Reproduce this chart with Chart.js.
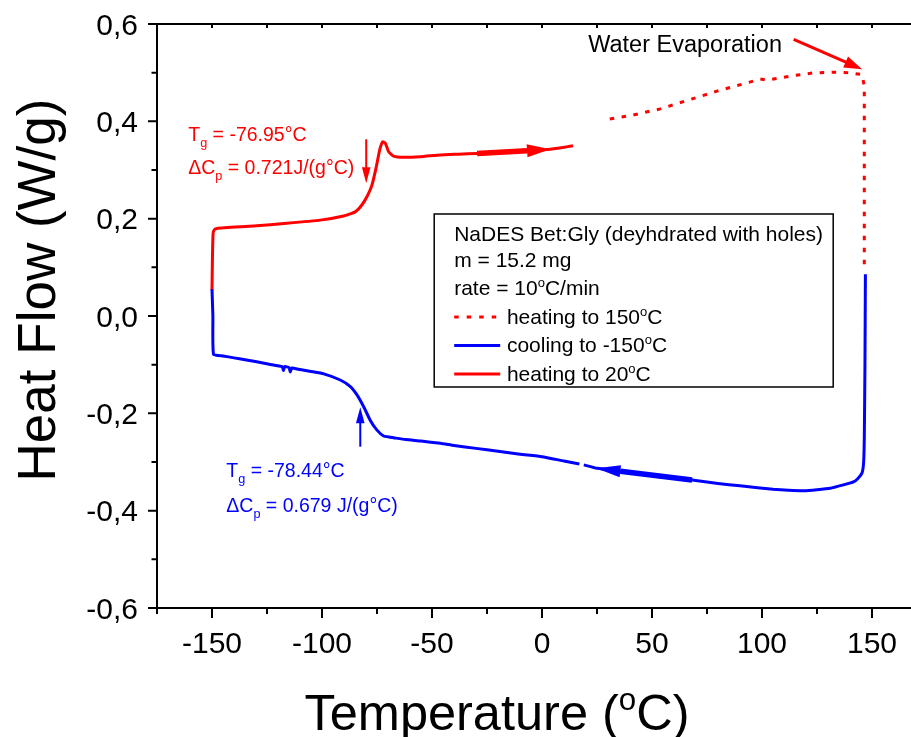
<!DOCTYPE html>
<html>
<head>
<meta charset="utf-8">
<script src="https://cdn.jsdelivr.net/npm/chart.js@4/dist/chart.umd.min.js"></script>
<style>
  html, body { margin: 0; padding: 0; background: #fff; overflow: hidden; }
  #wrap { position: relative; width: 940px; height: 737px; }
</style>
</head>
<body>
<div id="wrap"><canvas id="dsc"></canvas></div>
<script>
const FONT = '"Liberation Sans", Arial, Helvetica, sans-serif';

// DSC thermogram: temperature (°C) and heat flow (W/g)
// first heating to 150 °C (dotted)
const heat150T = [30.8, 40.9, 53.8, 65.9, 79.5, 93.2, 99.2, 102.3, 105.3, 114.4, 123.5, 132.5, 140.1, 145.5, 146.5, 146.5];
const heat150Q = [0.405, 0.4125, 0.4255, 0.4428, 0.462, 0.479, 0.487, 0.4845, 0.487, 0.494, 0.4995, 0.501, 0.4995, 0.496, 0.472, 0.0955];

// cooling to -150 °C
const coolT = [147.0, 146.8, 146.5, 146.2, 145.5, 143.6, 141.6, 137, 131, 125, 119, 112, 105, 98, 90, 80, 68.2, 55, 45, 35.6, 25, 19, 18, 17, 10, 0, -10, -20, -30, -40, -46.2, -55, -62, -67, -69, -72, -75.1, -78.1, -81.1, -84.1, -87.1, -91.7, -99.2, -105, -110, -113.8, -114.4, -115, -117, -117.5, -118.1, -124, -129.7, -135, -140, -145, -149.3, -149.6, -150];
const coolQ = [0.086, -0.1, -0.25, -0.3, -0.322, -0.334, -0.341, -0.347, -0.354, -0.357, -0.359, -0.358, -0.356, -0.353, -0.349, -0.344, -0.337, -0.329, -0.324, -0.319, -0.313, -0.306, null, -0.304, -0.298, -0.289, -0.284, -0.278, -0.272, -0.266, -0.2616, -0.257, -0.254, -0.2505, -0.249, -0.2466, -0.234, -0.214, -0.186, -0.162, -0.145, -0.1315, -0.119, -0.114, -0.110, -0.107, -0.115, -0.106, -0.104, -0.112, -0.104, -0.099, -0.094, -0.09, -0.086, -0.082, -0.0787, 0.0, 0.055];

// second heating to 20 °C
const heat20T = [-150, -149.8, -149.5, -148.8, -147.8, -131.1, -116, -100.8, -90.2, -84.9, -81.9, -79.6, -77.3, -75.3, -73.8, -72.4, -71.2, -69.7, -67.5, -62.9, -55.3, -46.2, -38, -29.5, -20, -10, 0, 3.8, 8, 14.1];
const heat20Q = [0.053, 0.12, 0.17, 0.178, 0.180, 0.185, 0.1905, 0.197, 0.2055, 0.214, 0.228, 0.245, 0.269, 0.307, 0.341, 0.358, 0.355, 0.3376, 0.3287, 0.326, 0.3273, 0.331, 0.3325, 0.334, 0.336, 0.338, 0.341, 0.3425, 0.345, 0.35];

// axes
const xRange = [-175, 175];
const yRange = [-0.6, 0.6];
const xTickValues = [-150, -100, -50, 0, 50, 100, 150];
const xMinorTicks = [-175, -125, -75, -25, 25, 75, 125, 175];
const yTickValues = [-0.6, -0.4, -0.2, 0, 0.2, 0.4, 0.6];
const yMinorTicks = [-0.5, -0.3, -0.1, 0.1, 0.3, 0.5];

// glass transitions
const tgHeating = { tg: -76.95, dcp: 0.721 };
const tgCooling = { tg: -78.44, dcp: 0.679 };

const RED = '#ff0000';
const BLUE = '#0000ff';

const pts = (xs, ys) => xs.map((x, i) => ({ x: x, y: ys[i] }));

// annotation layout (data units)
const notes = {
  redArrowTg: { x: -79.9, from: 0.363, to: 0.2727 },
  blueArrowTg: { x: -82.6, from: -0.2685, to: -0.1876 },
  redText: { x: -160.8, y1: 0.3602, y2: 0.2918 },
  blueText: { x: -143.5, y1: -0.3314, y2: -0.4021 },
  water: { x: 21.0, y: 0.543, tail: [114.4, 0.5685], tip: [145.5, 0.507] },
  heatDir: { tail: [-29.5, 0.334], base: [-6.8, 0.3395], tip: [3.8, 0.3425] },
  coolDir: { tail: [68.2, -0.337], base: [35.6, -0.319], tip: [24.7, -0.313] },
  legendBox: { x: -49.0, y: 0.2096 }
};

function head(ctx, x0, y0, x1, y1, len, half, color) {
  const a = Math.atan2(y1 - y0, x1 - x0);
  const bx = x1 - len * Math.cos(a), by = y1 - len * Math.sin(a);
  ctx.beginPath();
  ctx.moveTo(x1, y1);
  ctx.lineTo(bx + half * Math.sin(a), by - half * Math.cos(a));
  ctx.lineTo(bx - half * Math.sin(a), by + half * Math.cos(a));
  ctx.closePath();
  ctx.fillStyle = color;
  ctx.fill();
}

// text with sub/superscript pieces; returns the end x
function rich(ctx, x, y, parts, size, color) {
  ctx.fillStyle = color;
  ctx.textBaseline = 'alphabetic';
  ctx.textAlign = 'left';
  let cx = x;
  for (const p of parts) {
    let s = size, dy = 0;
    if (p.sub) { s = size * 0.65; dy = size * 0.3; }
    if (p.sup) { s = size * 0.62; dy = -size * 0.4; }
    ctx.font = s + 'px ' + FONT;
    ctx.fillText(p.t, cx, y + dy);
    cx += ctx.measureText(p.t).width;
  }
  return cx;
}

function richWidth(ctx, parts, size) {
  let w = 0;
  for (const p of parts) {
    const s = (p.sub ? 0.65 : p.sup ? 0.62 : 1) * size;
    ctx.font = s + 'px ' + FONT;
    w += ctx.measureText(p.t).width;
  }
  return w;
}

const decor = {
  id: 'decor',
  afterDatasetsDraw(chart) {
    const ctx = chart.ctx;
    const xs = chart.scales.x, ys = chart.scales.y;
    const X = v => xs.getPixelForValue(v), Y = v => ys.getPixelForValue(v);
    const ca = chart.chartArea;
    ctx.save();

    // direction arrows on the curves
    const arrowOn = (d, color, half) => {
      ctx.strokeStyle = color; ctx.lineWidth = 5.5; ctx.lineCap = 'butt';
      ctx.beginPath();
      ctx.moveTo(X(d.tail[0]), Y(d.tail[1]));
      ctx.lineTo(X(d.base[0]), Y(d.base[1]));
      ctx.stroke();
      const bx = X(d.base[0]), by = Y(d.base[1]), tx = X(d.tip[0]), ty = Y(d.tip[1]);
      head(ctx, bx, by, tx, ty, Math.hypot(tx - bx, ty - by), half, color);
    };
    arrowOn(notes.heatDir, RED, 6.5);
    arrowOn(notes.coolDir, BLUE, 6);

    // Tg markers
    const tgArrow = (a, color) => {
      const x = X(a.x), y0 = Y(a.from), y1 = Y(a.to);
      const dir = Math.sign(y1 - y0);
      ctx.strokeStyle = color; ctx.lineWidth = 2;
      ctx.beginPath(); ctx.moveTo(x, y0); ctx.lineTo(x, y1 - dir * 10); ctx.stroke();
      head(ctx, x, y0, x, y1, 16, 4.3, color);
    };
    tgArrow(notes.redArrowTg, RED);
    tgArrow(notes.blueArrowTg, BLUE);

    const fs = 19.5;
    rich(ctx, X(notes.redText.x), Y(notes.redText.y1),
      [{ t: 'T' }, { t: 'g', sub: true }, { t: ' = ' + tgHeating.tg.toFixed(2) + '°C' }], fs, RED);
    rich(ctx, X(notes.redText.x), Y(notes.redText.y2),
      [{ t: 'ΔC' }, { t: 'p', sub: true }, { t: ' = ' + tgHeating.dcp.toFixed(3) + 'J/(g°C)' }], fs, RED);
    rich(ctx, X(notes.blueText.x), Y(notes.blueText.y1),
      [{ t: 'T' }, { t: 'g', sub: true }, { t: ' = ' + tgCooling.tg.toFixed(2) + '°C' }], fs, BLUE);
    rich(ctx, X(notes.blueText.x), Y(notes.blueText.y2),
      [{ t: 'ΔC' }, { t: 'p', sub: true }, { t: ' = ' + tgCooling.dcp.toFixed(3) + ' J/(g°C)' }], fs, BLUE);

    // water evaporation note
    rich(ctx, X(notes.water.x), Y(notes.water.y), [{ t: 'Water Evaporation' }], 23.5, '#000');
    {
      const tx = X(notes.water.tip[0]), ty = Y(notes.water.tip[1]);
      const sx = X(notes.water.tail[0]), sy = Y(notes.water.tail[1]);
      const a = Math.atan2(ty - sy, tx - sx);
      ctx.strokeStyle = RED; ctx.lineWidth = 3;
      ctx.beginPath(); ctx.moveTo(sx, sy);
      ctx.lineTo(tx - 14 * Math.cos(a), ty - 14 * Math.sin(a)); ctx.stroke();
      head(ctx, sx, sy, tx, ty, 18, 6, RED);
    }

    // legend box
    {
      const bx = X(notes.legendBox.x), by = Y(notes.legendBox.y);
      const w = 399, h = 173, ls = 21;
      ctx.strokeStyle = '#000'; ctx.lineWidth = 1.5;
      ctx.strokeRect(bx, by, w, h);
      const tx = bx + 20;
      rich(ctx, tx, by + 27.5, [{ t: 'NaDES Bet:Gly (deyhdrated with holes)' }], ls, '#000');
      rich(ctx, tx, by + 53, [{ t: 'm = 15.2 mg' }], ls, '#000');
      rich(ctx, tx, by + 81, [{ t: 'rate = 10' }, { t: 'o', sup: true }, { t: 'C/min' }], ls, '#000');
      const rows = [
        { label: '150', color: RED, dash: [4.5, 8], dy: 110 },
        { label: '-150', color: BLUE, dash: [], dy: 138.5, txt: 'cooling to ' },
        { label: '20', color: RED, dash: [], dy: 167 }
      ];
      rows.forEach(r => {
        ctx.strokeStyle = r.color; ctx.lineWidth = 3; ctx.setLineDash(r.dash);
        ctx.beginPath(); ctx.moveTo(tx, by + r.dy - 7); ctx.lineTo(tx + 46, by + r.dy - 7); ctx.stroke();
        ctx.setLineDash([]);
        rich(ctx, tx + 52.7, by + r.dy, [{ t: (r.txt || 'heating to ') + r.label }, { t: 'o', sup: true }, { t: 'C' }], ls, '#000');
      });
    }

    // frame and ticks
    ctx.strokeStyle = '#000'; ctx.lineWidth = 2; ctx.lineCap = 'butt';
    ctx.beginPath();
    ctx.moveTo(ca.left, ca.top); ctx.lineTo(ca.left, ca.bottom);
    ctx.moveTo(ca.left - 1, ca.bottom); ctx.lineTo(ca.right, ca.bottom);
    ctx.moveTo(ca.left - 1, ca.top); ctx.lineTo(ca.right, ca.top);
    ctx.moveTo(ca.right, ca.top); ctx.lineTo(ca.right, ca.bottom);
    yTickValues.forEach(v => { const y = Y(v); ctx.moveTo(ca.left - 9, y); ctx.lineTo(ca.left, y); });
    yMinorTicks.forEach(v => { const y = Y(v); ctx.moveTo(ca.left - 5.5, y); ctx.lineTo(ca.left, y); });
    xTickValues.forEach(v => { const x = X(v); ctx.moveTo(x, ca.bottom); ctx.lineTo(x, ca.bottom + 10); });
    xMinorTicks.forEach(v => { const x = X(v); ctx.moveTo(x, ca.bottom); ctx.lineTo(x, ca.bottom + 6); });
    xTickValues.concat(xMinorTicks).forEach(v => { const x = X(v); ctx.moveTo(x, ca.top); ctx.lineTo(x, ca.top + 4); });
    ctx.stroke();

    // axis titles
    const xt = [{ t: 'Temperature (' }, { t: 'o', sup: true }, { t: 'C)' }];
    const xsz = 50.5;
    rich(ctx, 497 - richWidth(ctx, xt, xsz) / 2, 730, xt, xsz, '#000');

    ctx.save();
    ctx.translate(55, 290);
    ctx.rotate(-Math.PI / 2);
    ctx.font = '53px ' + FONT;
    ctx.fillStyle = '#000';
    ctx.textAlign = 'center';
    ctx.textBaseline = 'alphabetic';
    ctx.fillText('Heat Flow (W/g)', 0, 0);
    ctx.restore();

    ctx.restore();
  }
};

const chart = new Chart(document.getElementById('dsc'), {
  type: 'scatter',
  data: {
    datasets: [
      { label: 'heating to 150°C', data: pts(heat150T, heat150Q), showLine: true, borderColor: RED,
        borderWidth: 3, borderDash: [4.5, 7.5], pointRadius: 0, tension: 0, spanGaps: false },
      { label: 'cooling to -150°C', data: pts(coolT, coolQ), showLine: true, borderColor: BLUE,
        borderWidth: 3, pointRadius: 0, tension: 0.15, spanGaps: false },
      { label: 'heating to 20°C', data: pts(heat20T, heat20Q), showLine: true, borderColor: RED,
        borderWidth: 3, pointRadius: 0, tension: 0.15, spanGaps: false }
    ]
  },
  options: {
    responsive: true,
    maintainAspectRatio: false,
    animation: false,
    layout: { padding: { top: 24, right: 13, left: 0, bottom: 0 } },
    plugins: { legend: { display: false }, tooltip: { enabled: false }, title: { display: false } },
    scales: {
      x: {
        type: 'linear', min: xRange[0], max: xRange[1],
        grid: { display: false, drawTicks: false }, border: { display: false },
        afterBuildTicks: s => { s.ticks = xTickValues.map(v => ({ value: v })); },
        afterFit: s => { s.height = 129; },
        ticks: { color: '#000', font: { family: FONT, size: 30 }, padding: 19, maxRotation: 0,
          callback: v => String(v) }
      },
      y: {
        type: 'linear', min: yRange[0], max: yRange[1],
        grid: { display: false, drawTicks: false }, border: { display: false },
        afterBuildTicks: s => { s.ticks = yTickValues.map(v => ({ value: v })); },
        afterFit: s => { s.width = 157; s.paddingTop = 0; s.paddingBottom = 0; },
        ticks: { color: '#000', font: { family: FONT, size: 30, lineHeight: 0.6 }, padding: 19,
          labelOffset: 2.5,
          callback: v => Number(v).toFixed(1).replace('.', ',') }
      }
    }
  },
  plugins: [decor]
});

// pin the plot frame: top edge at 24 px, 350 °C spanning 770 px
const pad = chart.options.layout.padding;
pad.top += 24 - chart.chartArea.top;
pad.right += (chart.chartArea.left + 770) - chart.chartArea.right;
chart.update();
</script>
</body>
</html>
